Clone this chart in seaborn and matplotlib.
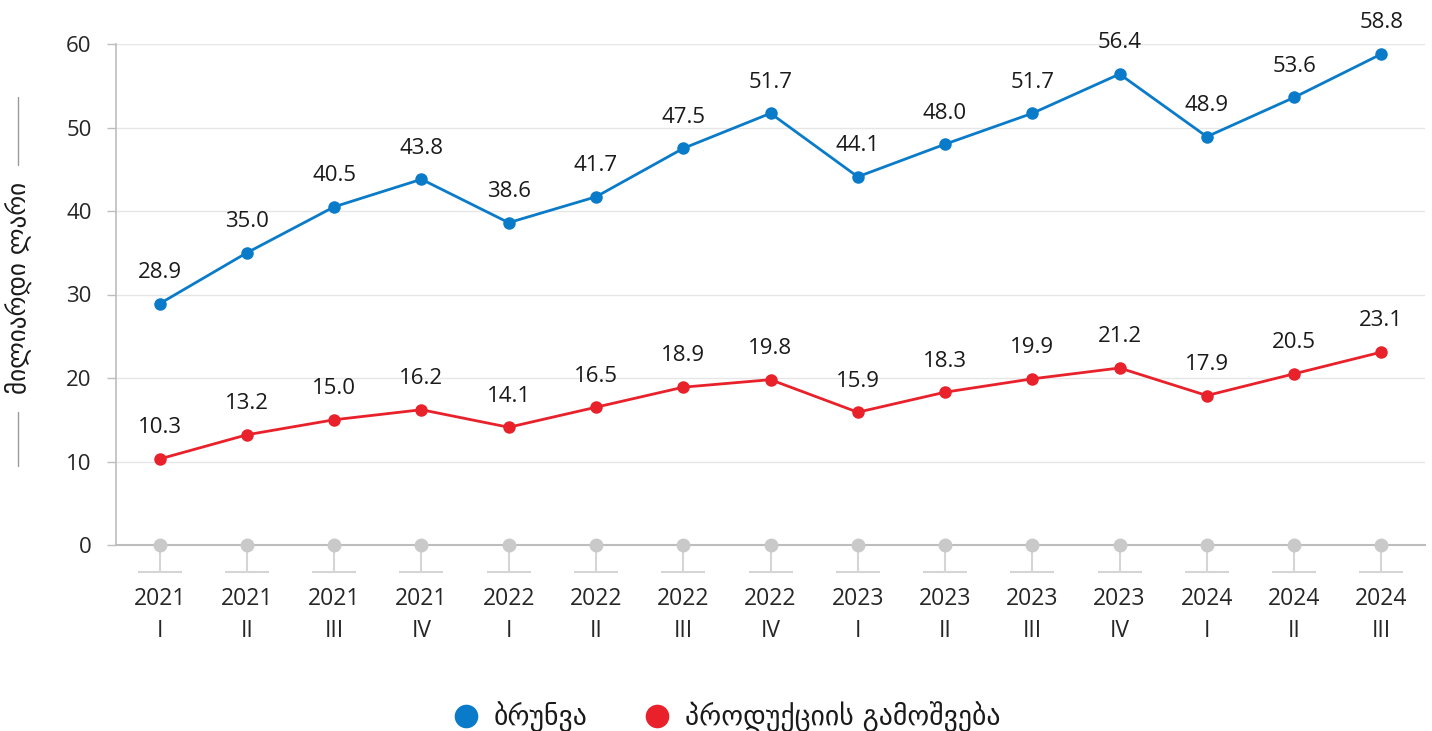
"""Quarterly turnover vs. production output (billion GEL), 2021 Q1 - 2024 Q3."""
import matplotlib
matplotlib.use("Agg")
import matplotlib.pyplot as plt
import matplotlib.transforms as mtransforms
from matplotlib.lines import Line2D
import numpy as np
import pandas as pd
import seaborn as sns

# -------- Data --------
years = ["2021", "2021", "2021", "2021", "2022", "2022", "2022", "2022",
         "2023", "2023", "2023", "2023", "2024", "2024", "2024"]
quarters = ["I", "II", "III", "IV", "I", "II", "III", "IV",
            "I", "II", "III", "IV", "I", "II", "III"]
turnover = [28.9, 35.0, 40.5, 43.8, 38.6, 41.7, 47.5, 51.7,
            44.1, 48.0, 51.7, 56.4, 48.9, 53.6, 58.8]
output = [10.3, 13.2, 15.0, 16.2, 14.1, 16.5, 18.9, 19.8,
          15.9, 18.3, 19.9, 21.2, 17.9, 20.5, 23.1]
series_names = ["ბრუნვა", "პროდუქციის გამოშვება"]
y_label = "მილიარდი ლარი"

BLUE = "#0A7BC8"
RED = "#E8212B"
GRAY_DOT = "#C9C9CA"
GRID = "#E6E6E6"
AXIS = "#BDBDBD"
STEM = "#D5D5D5"

sns.set_style("white")
plt.rcParams["font.family"] = ["Open Sans", "DejaVu Sans"]
plt.rcParams["text.color"] = "#1a1a1a"

pos = np.arange(len(years))
df = pd.concat([
    pd.DataFrame({"pos": pos, "value": turnover, "series": series_names[0]}),
    pd.DataFrame({"pos": pos, "value": output, "series": series_names[1]}),
])
palette = {series_names[0]: BLUE, series_names[1]: RED}

fig = plt.figure(figsize=(14.32, 7.31), dpi=100)
ax = fig.add_axes([116 / 1432, 186 / 731, (1425 - 116) / 1432, 501 / 731])

sns.lineplot(data=df, x="pos", y="value", hue="series", palette=palette,
             marker="o", markersize=9, markeredgewidth=0, linewidth=2,
             legend=False, ax=ax, zorder=3)

# value labels above points
for vals in (turnover, output):
    for i, v in zip(pos, vals):
        ax.annotate(f"{v:.1f}", (i, v), xytext=(0, 18.5), textcoords="offset points",
                    ha="center", va="baseline", fontsize=16)

# axes styling
ax.set_xlim(-0.5, len(years) - 0.5)
ax.set_ylim(0, 60)
ax.set_yticks(np.arange(0, 61, 10))
ax.yaxis.grid(True, color=GRID, linewidth=1)
ax.set_axisbelow(True)
for side in ("top", "right"):
    ax.spines[side].set_visible(False)
ax.spines["left"].set_color(AXIS)
ax.spines["bottom"].set_color(AXIS)
ax.spines["left"].set_linewidth(1.2)
ax.spines["bottom"].set_linewidth(1.5)
ax.tick_params(axis="y", left=True, length=6.5, width=1, color=AXIS,
               labelsize=16, pad=11)

ax.set_xticks(pos)
ax.set_xticklabels([f"{y}\n{q}" for y, q in zip(years, quarters)],
                   fontsize=16.5, linespacing=1.45)
ax.tick_params(axis="x", bottom=True, length=19.5, width=1.5, color=STEM, pad=11)
ax.set_xlabel("")
ax.set_ylabel("")

# gray dots on zero line + little base bars under tick stems
ax.plot(pos, np.zeros(len(pos)), "o", color=GRAY_DOT, markersize=9,
        clip_on=False, zorder=4)
base = mtransforms.offset_copy(ax.transData, fig=fig, y=-27, units="dots")
ax.plot(pos, np.zeros(len(pos)), "_", color=STEM, markersize=32,
        markeredgewidth=1.5, transform=base, clip_on=False)

# rotated y label with rules above and below
fig.text(18 / 1432, 1 - 288 / 731, y_label, rotation=90, ha="center", va="center",
         fontsize=18, family=["DejaVu Sans"])
for y0, y1 in ((97, 165), (412, 466)):
    fig.add_artist(Line2D([18 / 1432, 18 / 1432], [1 - y0 / 731, 1 - y1 / 731],
                          color="#9a9a9a", linewidth=1))

# legend
handles = [Line2D([], [], marker="o", linestyle="", markersize=17,
                  markerfacecolor=palette[n], markeredgewidth=0) for n in series_names]
leg = fig.legend(handles, series_names, loc="center", bbox_to_anchor=(0.507, 0.019),
                 ncol=2, frameon=False, handlelength=1.0, handletextpad=0.5,
                 columnspacing=2.0, prop={"family": ["DejaVu Sans"], "size": 20})

fig.savefig("out.png", dpi=100)
